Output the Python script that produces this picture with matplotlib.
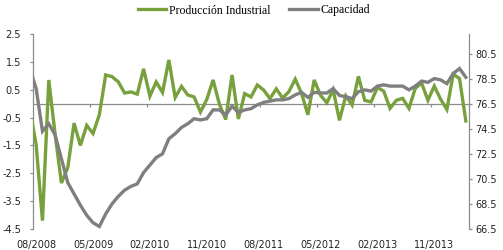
import numpy as np
import matplotlib
matplotlib.use("Agg")
import matplotlib.pyplot as plt
import pandas as pd

# Data (monthly, 07/2008 - 04/2014; first month falls just left of the axis)
months = pd.period_range("2008-07", "2014-04", freq="M").strftime("%m/%Y").tolist()

produccion = [-0.18,
              -1.48, -4.2, 0.85, -1.1, -2.85, -2.3, -0.7, -1.5, -0.78, -1.07,
              -0.4, 1.03, 0.97, 0.78, 0.38, 0.42, 0.34, 1.25, 0.27, 0.78,
              0.4, 1.57, 0.22, 0.62, 0.31, 0.24, -0.3, 0.15, 0.85, -0.02,
              -0.57, 1.03, -0.55, 0.36, 0.24, 0.67, 0.49, 0.18, 0.53, 0.2,
              0.43, 0.88, 0.37, -0.4, 0.85, 0.3, 0.03, 0.5, -0.6, 0.28,
              -0.05, 0.98, 0.12, 0.06, 0.58, 0.45, -0.17, 0.12, 0.19, -0.17,
              0.55, 0.74, 0.12, 0.63, 0.16, -0.21, 1.06, 0.9, -0.62]

capacidad = [79.3,
             77.7, 74.3, 74.9, 74.0, 72.1, 70.2, 69.3, 68.4, 67.6, 67.0,
             66.7, 67.7, 68.5, 69.1, 69.6, 69.9, 70.1, 71.0, 71.6, 72.2,
             72.5, 73.7, 74.1, 74.6, 74.9, 75.3, 75.2, 75.3, 76.0, 76.0,
             75.6, 76.3, 75.8, 76.0, 76.1, 76.4, 76.6, 76.7, 76.8, 76.8,
             76.9, 77.2, 77.4, 77.0, 77.4, 77.35, 77.35, 77.7, 77.15, 77.05,
             76.9, 77.45, 77.6, 77.5, 77.9, 78.0, 77.9, 77.9, 77.9, 77.6,
             77.9, 78.3, 78.2, 78.5, 78.4, 78.1, 78.9, 79.3, 78.6]

left_ticks = np.arange(-4.5, 2.6, 1.0)
right_ticks = np.arange(66.5, 80.6, 2.0)

green = "#78A13E"
gray = "#7F7F7F"
axis_col = "#8C8C8C"

x = np.arange(len(months)) - 1  # index 0 = 08/2008

fig = plt.figure(figsize=(5.03, 2.5), dpi=100)
ax = fig.add_axes([0.0656, 0.084, 0.8668, 0.78])
ax2 = ax.twinx()

ax.plot(x, produccion, color=green, lw=2.4, label="Producción Industrial",
        solid_joinstyle="miter", zorder=3)
ax2.plot(x, capacidad, color=gray, lw=2.4, label="Capacidad",
         solid_joinstyle="miter", zorder=3)

n = len(months) - 1
ax.set_xlim(-0.5, n - 0.5)
ax.set_ylim(-4.5, 2.5)
ax2.set_ylim(66.5, 66.5 + 10 * 7 / 4.5)

# zero line acting as the category axis, with tick marks every 9 months
ax.axhline(0, color=axis_col, lw=0.9, zorder=1)
bounds = np.arange(9, n, 9) - 0.5
ax.vlines(bounds, -0.11, 0, color=axis_col, lw=0.9, zorder=1)

lab_idx = np.arange(0, n, 9)
ax.set_xticks(lab_idx)
ax.set_xticklabels([months[i + 1] for i in lab_idx])
ax.tick_params(axis="x", length=0, pad=8, labelsize=7, colors="#222222")

ax.set_yticks(left_ticks)
ax.set_yticklabels([f"{v:.1f}" for v in left_ticks])
ax.tick_params(axis="y", length=2.5, width=0.9, color=axis_col, pad=6,
               labelsize=7, labelcolor="#222222")
ax2.set_yticks(right_ticks)
ax2.set_yticklabels([f"{v:.1f}" for v in right_ticks])
ax2.tick_params(axis="y", length=2.5, width=0.9, color=axis_col, pad=2,
                labelsize=7, labelcolor="#222222")

for a in (ax, ax2):
    a.spines["top"].set_visible(False)
    a.spines["bottom"].set_visible(False)
    a.spines["left"].set_color(axis_col)
    a.spines["right"].set_color(axis_col)
    a.spines["left"].set_linewidth(0.9)
    a.spines["right"].set_linewidth(0.9)
ax.spines["right"].set_visible(False)
ax2.spines["left"].set_visible(False)
ax.patch.set_visible(False)

h1, l1 = ax.get_legend_handles_labels()
h2, l2 = ax2.get_legend_handles_labels()
fig.legend(h1 + h2, l1 + l2, loc="center", bbox_to_anchor=(0.505, 0.958),
           ncol=2, frameon=False, handlelength=2.4, handletextpad=0.25,
           columnspacing=1.6, prop={"family": "Liberation Serif", "size": 8.5})

fig.savefig("out.png", dpi=100)
